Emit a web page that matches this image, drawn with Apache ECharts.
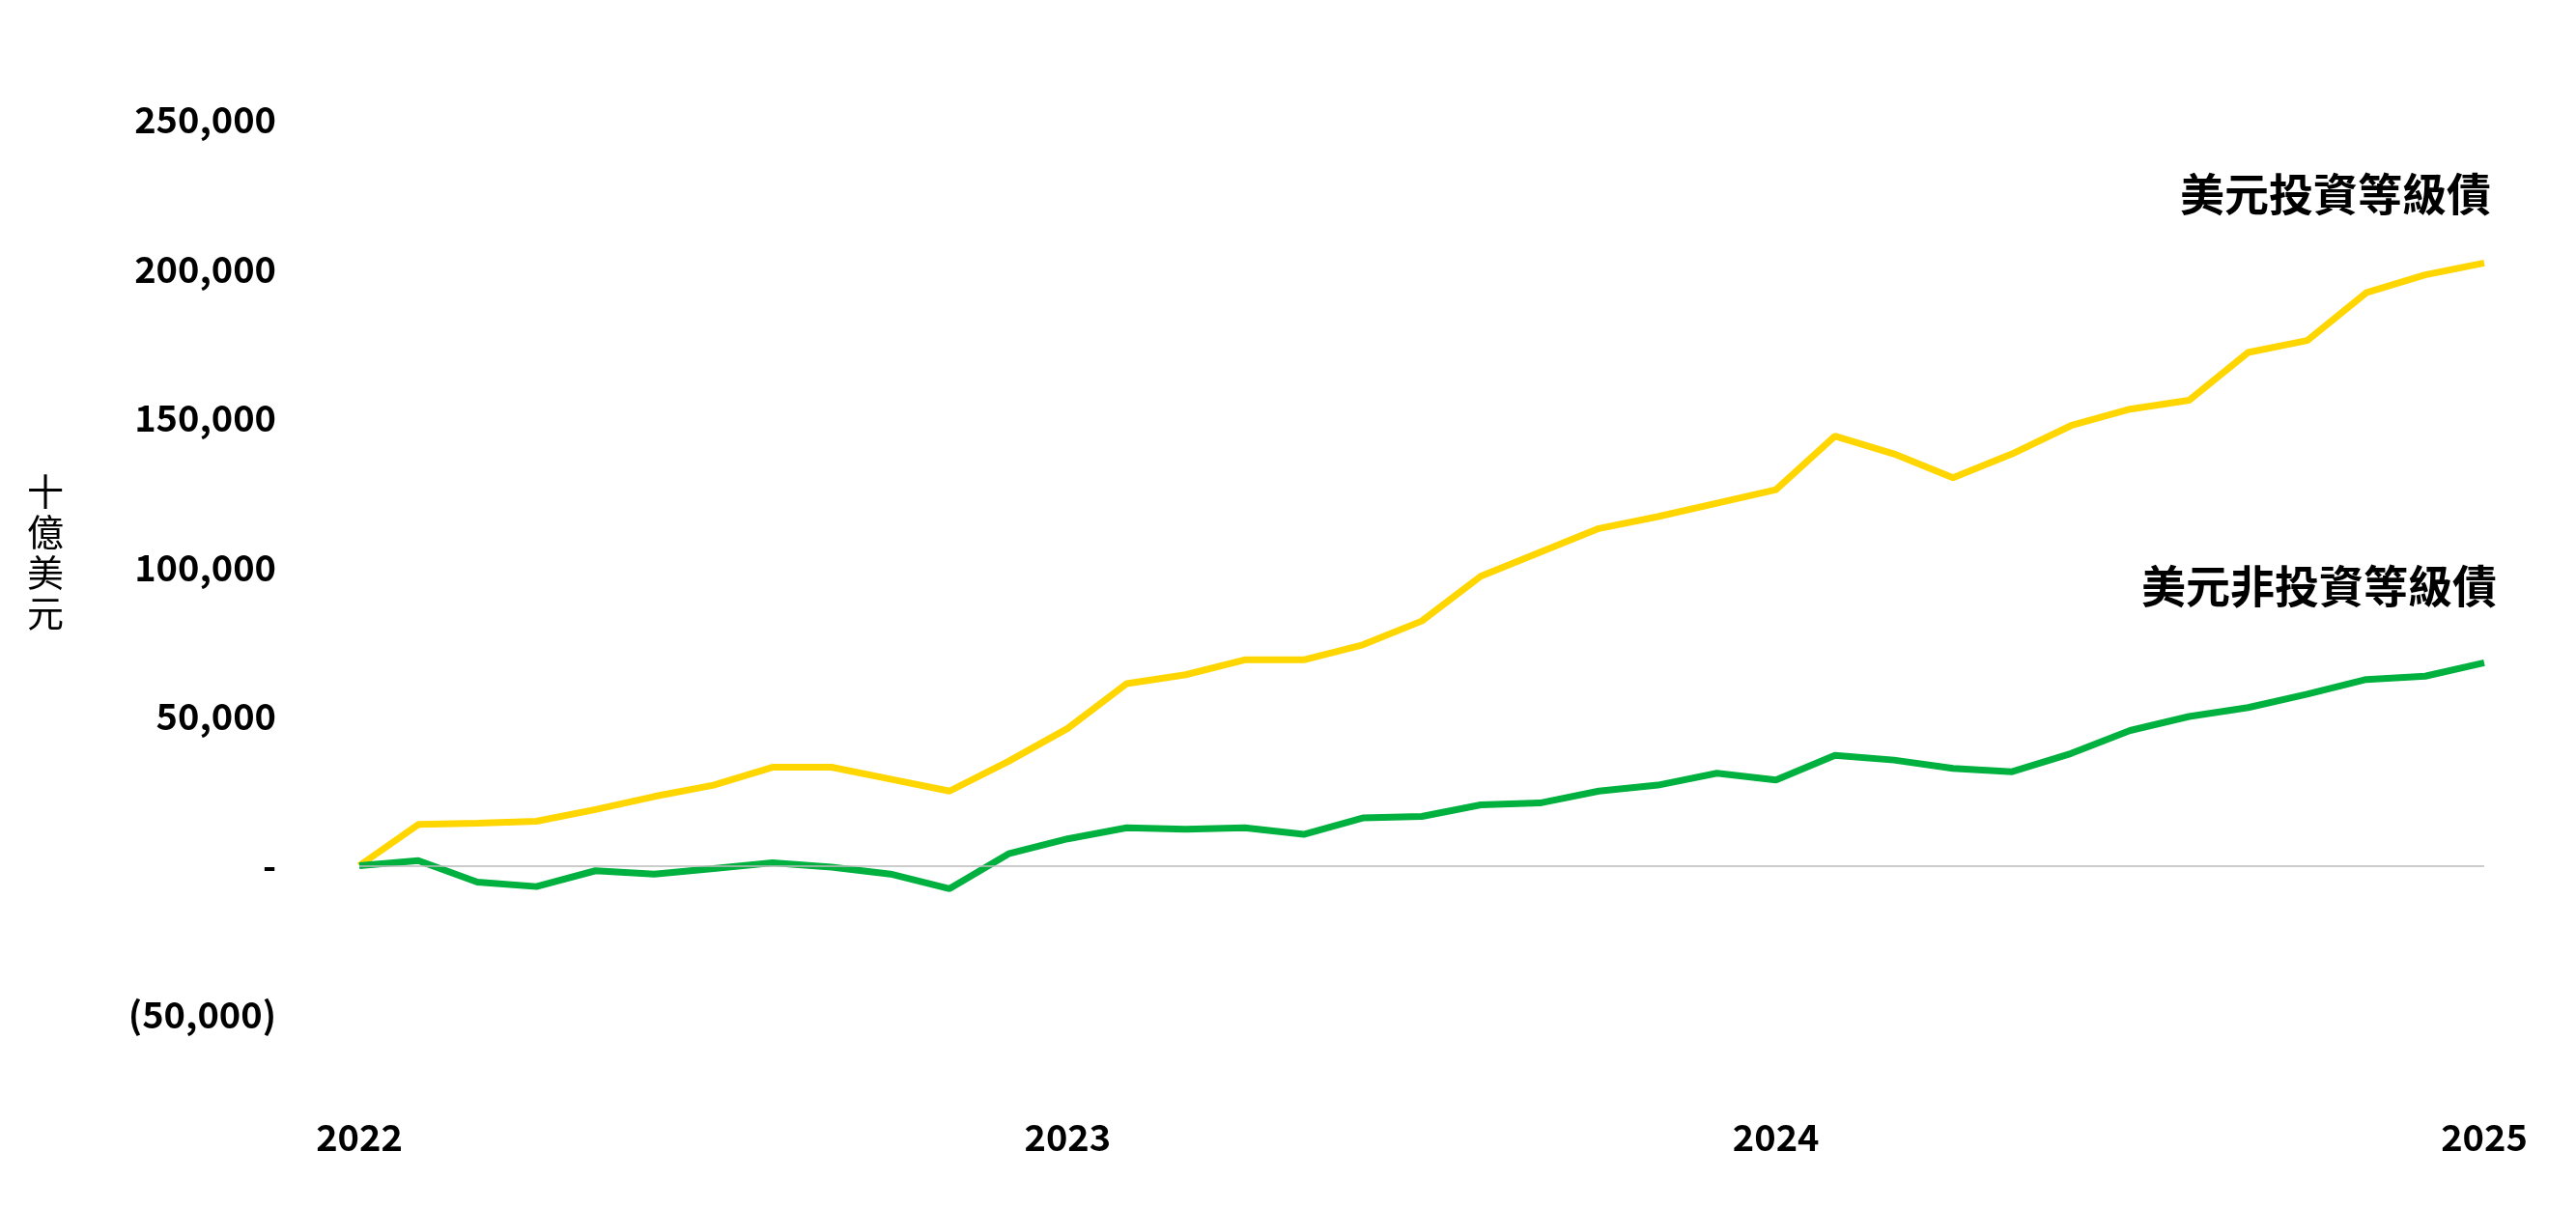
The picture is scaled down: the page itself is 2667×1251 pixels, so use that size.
<!DOCTYPE html>
<html><head><meta charset="utf-8">
<script src="https://cdn.jsdelivr.net/npm/echarts@6/dist/echarts.min.js"></script>
<style>html,body{margin:0;padding:0;background:#fff}#c{width:2667px;height:1251px}</style>
</head><body><div id="c"></div>
<script>
const months = Array.from({length:37},(_,i)=>i);
const igValues = [0,13800,14200,14900,18800,23200,27000,33000,33000,29000,25000,35000,46000,61000,64000,69000,69000,74000,82000,97000,105000,113000,117000,121500,126000,144000,138000,130000,138000,147500,153000,156000,172000,176000,192000,198000,202000];
const hyValues = [0,1700,-5500,-7000,-1700,-2800,-1000,1000,-500,-2800,-7700,4000,9000,12700,12200,12700,10500,16000,16500,20400,21000,25000,27000,31000,28700,37000,35400,32600,31500,37600,45300,50000,53000,57500,62400,63500,68000];
const seriesNames = ['美元投資等級債','美元非投資等級債'];
const yAxisName = '十億美元';
const font = '"Noto Sans CJK TC","Noto Sans",sans-serif';
const chart = echarts.init(document.getElementById('c'));
const pts = v => months.map((m,i)=>[m,v[i]]);
chart.setOption({
  animation:false,
  grid:{left:372,right:95,top:124,bottom:200},
  xAxis:{type:'value',min:0,max:36,interval:12,
    axisLine:{show:false},axisTick:{show:false},splitLine:{show:false},
    axisLabel:{margin:108,fontSize:38,fontWeight:'bold',color:'#000',fontFamily:font,
      formatter:v=>String(2022+v/12)}},
  yAxis:{type:'value',min:-50000,max:250000,interval:50000,
    axisLine:{show:false},axisTick:{show:false},splitLine:{show:false},
    axisLabel:{margin:86,fontSize:38,fontWeight:'bold',color:'#000',fontFamily:font,
      formatter:v=>v===0?'-':v<0?'('+(-v).toLocaleString('en-US')+')':v.toLocaleString('en-US')}},
  series:[
    {name:seriesNames[0],type:'line',data:pts(igValues),symbol:'none',lineStyle:{color:'#FFD600',width:7},
     markLine:{silent:true,symbol:'none',label:{show:false},lineStyle:{color:'#bbb',width:1.5,type:'solid'},data:[{yAxis:0}]},z:3},
    {name:seriesNames[1],type:'line',data:pts(hyValues),symbol:'none',lineStyle:{color:'#00B140',width:7},z:4}
  ],
  graphic:[
    {type:'text',right:88,top:178,style:{text:seriesNames[0],font:'bold 46px '+font,fill:'#000'}},
    {type:'text',right:82,top:584,style:{text:seriesNames[1],font:'bold 46px '+font,fill:'#000'}},
    {type:'text',left:28,top:488,style:{text:yAxisName.split('').join('\n'),font:'38px '+font,fill:'#000',lineHeight:42}}
  ]
});
</script></body></html>
